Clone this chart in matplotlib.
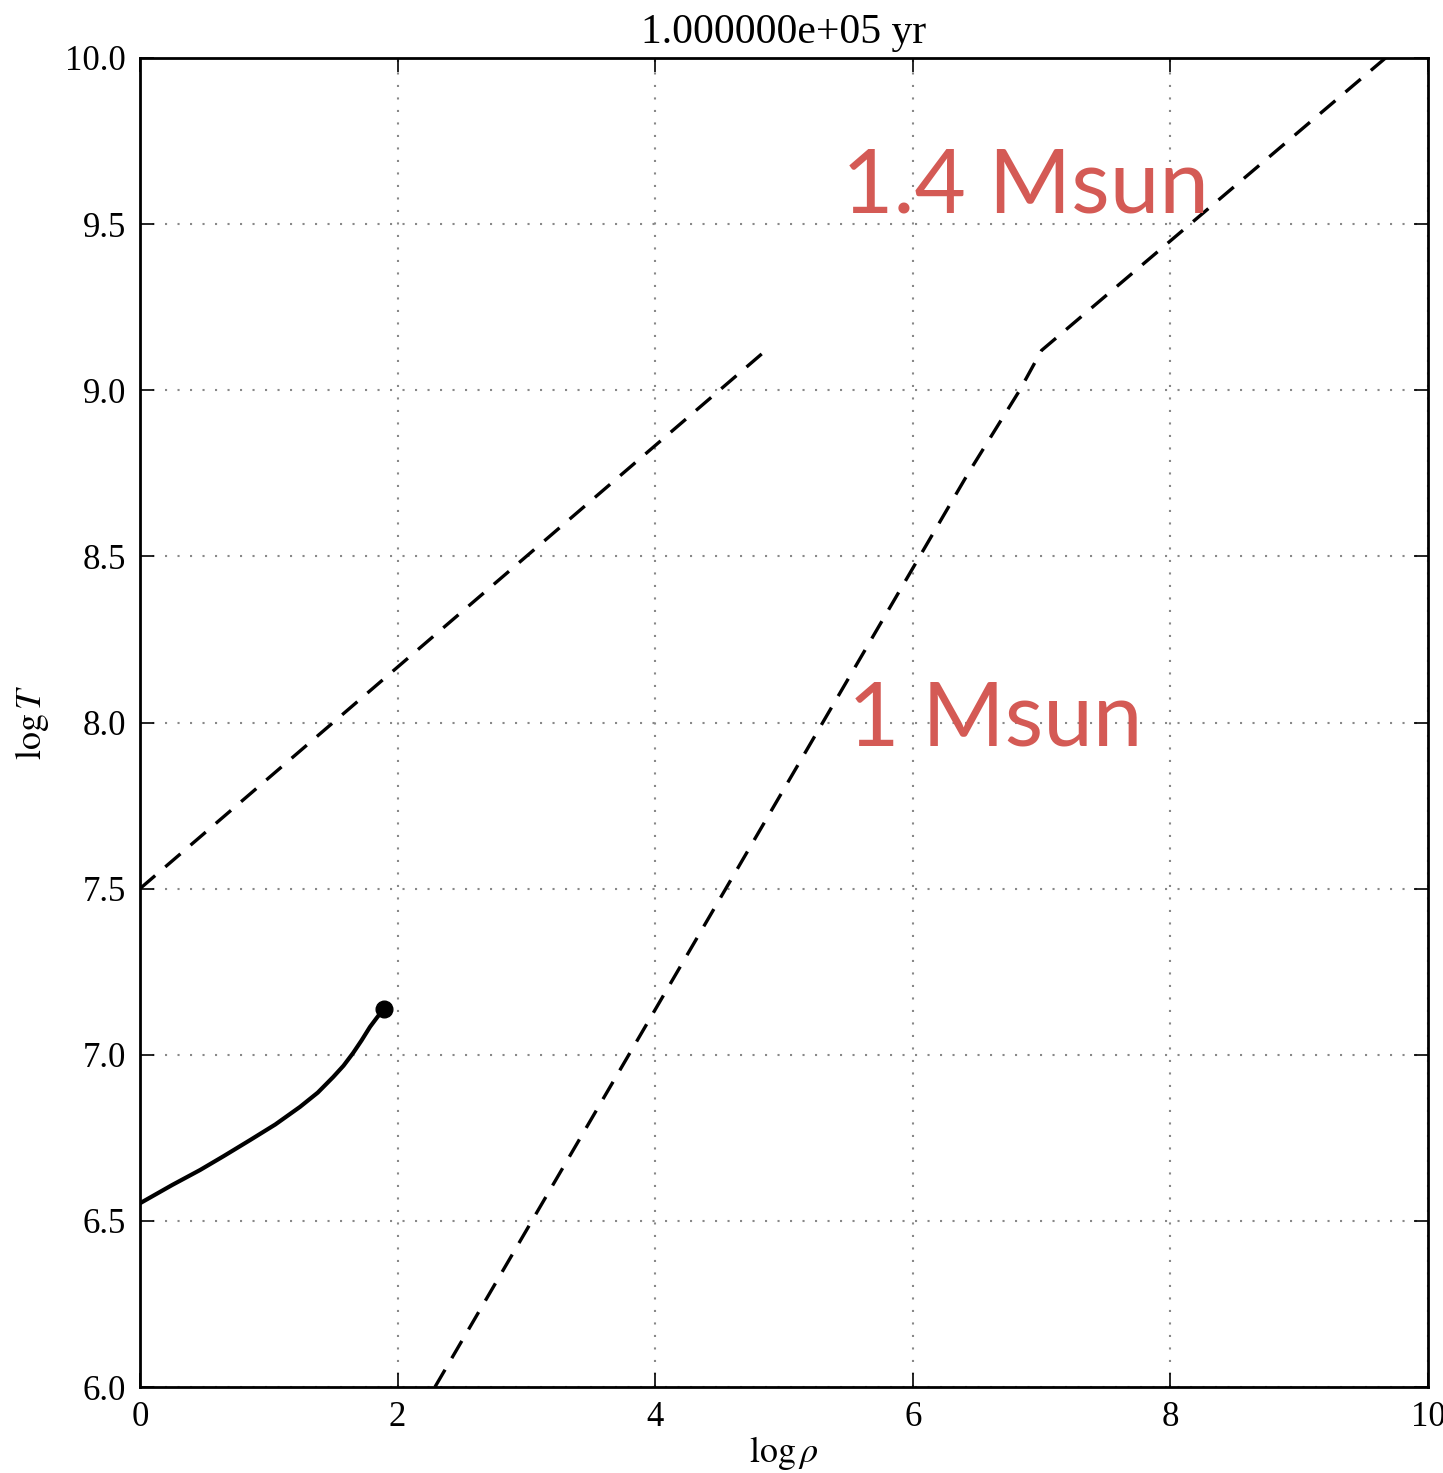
import matplotlib
matplotlib.use("Agg")
import matplotlib.pyplot as plt

# Data
line14_rho = [0.0, 4.88]
line14_T = [7.5, 9.127]

line1_rho = [2.29, 6.43, 6.83, 7.0, 9.67]
line1_T = [6.0, 8.75, 9.0, 9.12, 10.0]

track_rho = [0.0, 0.25, 0.466, 0.65, 0.854, 1.05, 1.242, 1.38, 1.50, 1.58,
             1.654, 1.72, 1.786, 1.84, 1.894]
track_T = [6.553, 6.608, 6.653, 6.695, 6.743, 6.790, 6.843, 6.886, 6.933, 6.967,
           7.005, 7.043, 7.084, 7.112, 7.138]

xticks = [0, 2, 4, 6, 8, 10]
yticks = [6.0, 6.5, 7.0, 7.5, 8.0, 8.5, 9.0, 9.5, 10.0]

plt.rcParams['font.family'] = ['Liberation Serif', 'DejaVu Serif']
plt.rcParams['mathtext.fontset'] = 'stix'

fig = plt.figure(figsize=(14.43, 14.73), dpi=100)
ax = fig.add_axes([140/1443, 86/1473, 1288/1443, 1329/1473])

ax.plot(line14_rho, line14_T, color='black', lw=2.4, dashes=(6, 4))
ax.plot(line1_rho, line1_T, color='black', lw=2.4, dashes=(6, 4))
ax.plot(track_rho, track_T, color='black', lw=3, solid_capstyle='round',
        solid_joinstyle='round')
ax.plot(track_rho[-1:], track_T[-1:], 'o', color='black', ms=12)

ax.set_xlim(0, 10)
ax.set_ylim(6, 10)
ax.set_xticks(xticks)
ax.set_xticklabels([str(v) for v in xticks])
ax.set_yticks(yticks)
ax.set_yticklabels([f"{v:.1f}" for v in yticks])
ax.tick_params(direction='in', length=10, width=1.2, top=True, right=True,
               labelsize=25, pad=10)
for s in ax.spines.values():
    s.set_linewidth(2)
ax.grid(True, color='#888888', linestyle=(0, (1, 5)), lw=1.5)

ax.set_title('1.000000e+05 yr', fontsize=30, pad=11)
ax.set_xlabel(r'$\log\rho$', fontsize=26, labelpad=0)
ax.set_ylabel(r'$\log T$', fontsize=26, labelpad=10)

ax.text(5.45, 9.536, '1.4 Msun', family='Lato', fontsize=64, color='#d45a55',
        va='baseline', ha='left')
ax.text(5.5, 7.93, '1 Msun', family='Lato', fontsize=64, color='#d45a55',
        va='baseline', ha='left')

fig.savefig('out.png', dpi=100)
